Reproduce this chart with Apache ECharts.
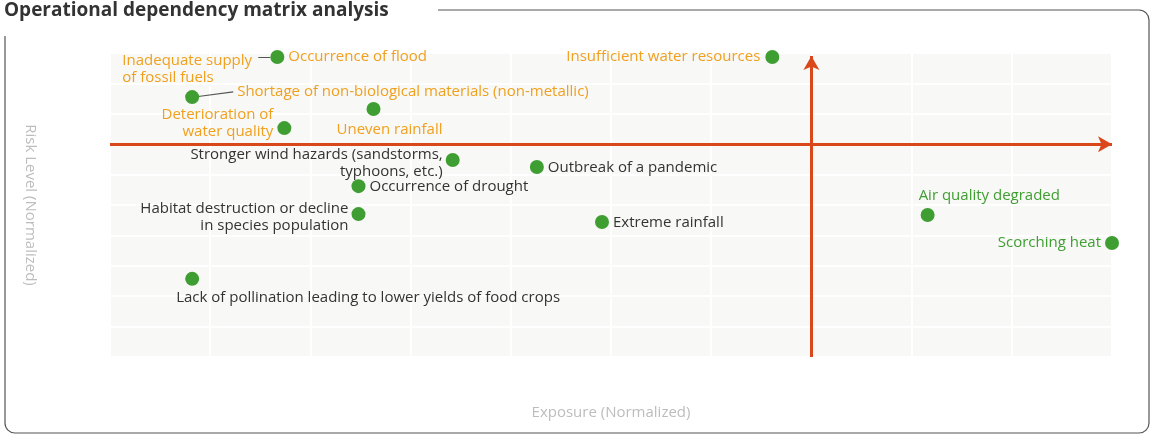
<!DOCTYPE html>
<html>
<head>
<meta charset="utf-8">
<script src="https://cdn.jsdelivr.net/npm/echarts@6/dist/echarts.min.js"></script>
<style>html,body{margin:0;padding:0;background:#fff}#chart{width:1153px;height:436px}</style>
</head>
<body>
<div id="chart"></div>
<script>
// risk items: exposure (x) and risk level (y), normalized
const names = [
  'Occurrence of flood', 'Inadequate supply\nof fossil fuels', 'Insufficient water resources',
  'Shortage of non-biological materials (non-metallic)', 'Uneven rainfall',
  'Deterioration of\nwater quality', 'Stronger wind hazards (sandstorms,\ntyphoons, etc.)',
  'Outbreak of a pandemic', 'Occurrence of drought', 'Habitat destruction or decline\nin species population',
  'Extreme rainfall', 'Lack of pollination leading to lower yields of food crops',
  'Air quality degraded', 'Scorching heat'
];
const exposure = [0.167, 0.167, 0.661, 0.082, 0.263, 0.174, 0.342, 0.426, 0.248, 0.248, 0.491, 0.082, 0.816, 1.0];
const risk = [0.987, 0.987, 0.987, 0.855, 0.816, 0.753, 0.648, 0.625, 0.562, 0.470, 0.444, 0.257, 0.467, 0.375];
const threshold = 0.7;

// label offsets from the dot centre (px) and alignment
const labelPlace = [
  [11, 0, 'left', 'middle'], [-162, -12, 'left', 'top'], [-12, 0, 'right', 'middle'],
  [45, -5, 'left', 'middle'], [-37, 21, 'left', 'middle'], [-11, 12, 'right', 'bottom'],
  [-10, -14, 'right', 'top'], [11, 1, 'left', 'middle'], [11, 1, 'left', 'middle'],
  [-10, -14, 'right', 'top'], [11, 1, 'left', 'middle'], [-16, 19, 'left', 'middle'],
  [-9, -19, 'left', 'middle'], [-11, 0, 'right', 'middle']
];
// connector lines [x1, y1, x2, y2] in data space
const connectors = [
  [0.148, 0.987, 0.160, 0.987],
  [0.088, 0.857, 0.123, 0.872]
];

const SYM = 14;
const points = names.map((n, i) => {
  const p = labelPlace[i];
  let color = '#333333';
  if (risk[i] > threshold) color = '#f0a01e';
  else if (exposure[i] > threshold) color = '#3f9e32';
  return {
    name: n,
    value: [exposure[i], risk[i]],
    symbolSize: i === 1 ? 0 : SYM,
    label: {
      show: true,
      formatter: '{b}',
      position: [SYM / 2 + p[0], SYM / 2 + p[1]],
      align: p[2],
      verticalAlign: p[3],
      color: color
    }
  };
});

const chart = echarts.init(document.getElementById('chart'));
chart.setOption({
  animation: false,
  textStyle: { fontFamily: '"Open Sans", sans-serif' },
  graphic: [
    { type: 'rect', shape: { x: 5, y: 10, width: 1144, height: 423, r: 10 }, style: { fill: 'none', stroke: '#555', lineWidth: 1.2 }, z: -10 },
    { type: 'rect', shape: { x: 0, y: 0, width: 438, height: 36 }, style: { fill: '#fff' }, z: -9 },
    { type: 'text', left: 4, top: 1, style: { text: 'Operational dependency matrix analysis', fontSize: 19, fontWeight: 'bold', fill: '#333', fontFamily: '"Open Sans", sans-serif' }, z: -8 }
  ],
  grid: { left: 110, right: 41, top: 53, bottom: 79, show: true, backgroundColor: '#f8f8f6', borderWidth: 0 },
  xAxis: {
    type: 'value', min: 0, max: 1, interval: 0.1,
    name: 'Exposure (Normalized)', nameLocation: 'middle', nameGap: 48,
    nameTextStyle: { color: '#bdbdbd', fontSize: 15 },
    axisLine: { show: false }, axisTick: { show: false }, axisLabel: { show: false },
    splitLine: { lineStyle: { color: '#ffffff', width: 2 } }
  },
  yAxis: {
    type: 'value', min: 0, max: 1, interval: 0.1,
    name: 'Risk Level (Normalized)', nameLocation: 'middle', nameGap: 72, nameRotate: -90,
    nameTextStyle: { color: '#bdbdbd', fontSize: 15 },
    axisLine: { show: false }, axisTick: { show: false }, axisLabel: { show: false },
    splitLine: { lineStyle: { color: '#ffffff', width: 2 } }
  },
  series: [
    {
      type: 'lines', coordinateSystem: 'cartesian2d', silent: true,
      lineStyle: { color: '#555', width: 1.2, opacity: 1 },
      data: connectors.map(c => ({ coords: [[c[0], c[1]], [c[2], c[3]]] }))
    },
    {
      type: 'scatter',
      itemStyle: { color: '#3f9e32', opacity: 1 },
      label: { fontSize: 15, lineHeight: 17 },
      data: points,
      z: 5,
      markLine: {
        silent: true, symbol: ['none', 'arrow'], symbolSize: [12, 14],
        lineStyle: { color: '#d9471a', width: 3, type: 'solid' },
        label: { show: false },
        data: [
          [{ coord: [0, threshold] }, { coord: [1, threshold] }],
          [{ coord: [threshold, 0] }, { coord: [threshold, 0.99] }]
        ]
      }
    }
  ]
});
</script>
</body>
</html>
